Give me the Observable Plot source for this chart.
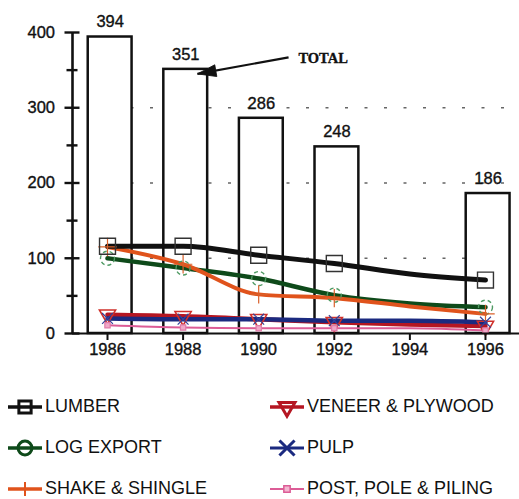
<!DOCTYPE html>
<html>
<head>
<meta charset="utf-8">
<script src="https://cdn.jsdelivr.net/npm/d3@7"></script>
<script src="https://cdn.jsdelivr.net/npm/@observablehq/plot@0.6"></script>
<style>
  html, body { margin: 0; padding: 0; background: #fff; }
  #chart { width: 519px; }
  #chart text { stroke: #111; stroke-width: 0.35px; }
  #legend {
    display: grid;
    grid-template-columns: 262px 257px;
    grid-auto-rows: 41px;
    padding-top: 21px;
    font-family: "Liberation Sans", Arial, Helvetica, sans-serif;
    font-size: 18px;
    color: #111;
  }
  .item { display: flex; align-items: center; }
  .item svg { flex: none; margin-right: 2px; }
  .left { padding-left: 7px; }
  .right { padding-left: 7px; }
</style>
</head>
<body>
<div id="chart"></div>
<div id="legend"></div>
<script>
// Harvest by product, million board feet equivalent, 1986–1996
const years = [1986, 1988, 1990, 1992, 1994, 1996];
const markerYears = [1986, 1988, 1990, 1992, 1996];

const totalYears = [1986, 1988, 1990, 1992, 1996];
const totals = [394, 351, 286, 248, 186];

const seriesNames = ["LUMBER", "LOG EXPORT", "SHAKE & SHINGLE", "VENEER & PLYWOOD", "PULP", "POST, POLE & PILING"];
const lumber = [116, 116, 104, 93, 79, 71];
const logExport = [100, 87, 73, 51, 40, 35];
const shakeShingle = [115, 92, 52, 47, 36, 26];
const veneerPlywood = [25, 23, 19, 15, 12, 10];
const pulp = [20, 19, 19, 17, 17, 15];
const postPolePiling = [11, 8, 7, 7, 7, 4];

const yTicks = [0, 100, 200, 300, 400];
const yMinorTicks = [50, 150, 250, 350];
const gridValues = [100, 200, 300];
const totalLabel = "TOTAL";

const seriesValues = [lumber, logExport, shakeShingle, veneerPlywood, pulp, postPolePiling];

// Drawing styles per series
const styles = {
  "LUMBER": {stroke: "#111", width: 5, marker: "square", mstroke: "#333", mr: 9, mwidth: 1.4},
  "LOG EXPORT": {stroke: "#0e4a1a", width: 4.5, marker: "circle", mstroke: "#4f9a63", mr: 7, mwidth: 1.4, dash: "4,3"},
  "SHAKE & SHINGLE": {stroke: "#e0531c", width: 4, marker: "plus", mstroke: "#d9602a", mr: 6, mwidth: 1.2},
  "VENEER & PLYWOOD": {stroke: "#b51622", width: 4.5, marker: "triangle", mstroke: "#d0302a", mr: 6, mwidth: 1.6},
  "PULP": {stroke: "#1b2a80", width: 4.5, marker: "times", mstroke: "#34429a", mr: 5, mwidth: 1.2},
  "POST, POLE & PILING": {stroke: "#dc5c96", width: 2, marker: "square", mstroke: "#e07aa8", mr: 3, mwidth: 1.2, mfill: "#f0a8c8"}
};

const totalData = totalYears.map((year, i) => ({year, total: totals[i]}));
const series = seriesNames.map((name, s) =>
  years.map((year, i) => ({series: name, year, value: seriesValues[s][i]}))
);

// Filled, elongated arrowhead with its tip at the origin, pointing up
const arrowHead = {
  draw(context, size) {
    const s = Math.sqrt(size);
    context.moveTo(0, 0);
    context.lineTo(-0.32 * s, s);
    context.lineTo(0.32 * s, s);
    context.closePath();
  }
};

// TOTAL call-out (data coordinates)
const callout = {tipX: 1988.38, tipY: 345, tailX: 1990.79, tailY: 367, textX: 1991.05, textY: 366};

const drawOrder = ["LOG EXPORT", "SHAKE & SHINGLE", "VENEER & PLYWOOD", "PULP", "POST, POLE & PILING", "LUMBER"];

const lineMarks = [];
for (const name of drawOrder) {
  const st = styles[name];
  const data = series[seriesNames.indexOf(name)];
  lineMarks.push(Plot.line(data, {
    x: "year", y: "value", stroke: st.stroke, strokeWidth: st.width,
    curve: "monotone-x", strokeLinecap: "round", strokeLinejoin: "round"
  }));
}
const markerMarks = [];
for (const name of drawOrder) {
  const st = styles[name];
  const data = series[seriesNames.indexOf(name)].filter(d => markerYears.includes(d.year));
  markerMarks.push(Plot.dot(data, {
    x: "year", y: "value", symbol: st.marker, r: st.mr,
    rotate: st.marker === "triangle" ? 180 : 0,
    fill: st.mfill || "none", stroke: st.mstroke, strokeWidth: st.mwidth,
    strokeDasharray: st.dash || null
  }));
}

const chart = Plot.plot({
  width: 519,
  height: 365,
  marginLeft: 72,
  marginRight: 0,
  marginTop: 32,
  marginBottom: 32,
  x: {domain: [1985.074, 1996.9], axis: null, label: null},
  y: {domain: [0, 400], axis: null, label: null},
  style: {fontFamily: "'Liberation Sans', Arial, Helvetica, sans-serif", background: "white", color: "#111"},
  marks: [
    Plot.ruleY(gridValues, {stroke: "#666", strokeWidth: 1.6, strokeDasharray: "3,16.5"}),
    Plot.rect(totalData, {
      x1: d => d.year - 0.51, x2: d => d.year + 0.65, y1: 0, y2: "total",
      fill: "white", stroke: "#111", strokeWidth: 2.5
    }),
    Plot.text(totalData, {
      x: d => d.year + 0.07, y: "total", text: d => String(d.total),
      dy: -15, fontSize: 16.5, fill: "#111"
    }),
    ...lineMarks,
    ...markerMarks,
    // x axis
    Plot.ruleY([0], {stroke: "#111", strokeWidth: 2.2}),
    Plot.axisX({ticks: years, tickFormat: d => String(d), tickSize: 7, tickPadding: 3,
      fontSize: 16.5, strokeWidth: 2, label: null}),
    // y axis
    Plot.ruleX([1985.074], {y1: 0, y2: 400, stroke: "#111", strokeWidth: 2.6}),
    Plot.axisY({ticks: yTicks, tickFormat: d => String(d), tickSize: 15, dx: 7.5, tickPadding: 10,
      fontSize: 16.5, strokeWidth: 2.4, label: null}),
    Plot.axisY({ticks: yMinorTicks, tickFormat: () => "", tickSize: 11, dx: 5.5, strokeWidth: 2.4, label: null}),
    // TOTAL call-out
    Plot.link([callout], {x1: "tailX", y1: "tailY", x2: "tipX", y2: "tipY", stroke: "#111", strokeWidth: 2.2}),
    Plot.dot([callout], {x: "tipX", y: "tipY", symbol: arrowHead, r: 10.5, rotate: -100, fill: "#111", stroke: "#111", strokeWidth: 0.8}),
    Plot.text([callout], {x: "textX", y: "textY", text: () => totalLabel, textAnchor: "start",
      fontFamily: "'Liberation Serif', 'Times New Roman', serif", fontWeight: "bold", fontSize: 14.5, fill: "#111"})
  ]
});
document.getElementById("chart").appendChild(chart);

// Legend: two columns, three rows
const legendOrder = ["LUMBER", "VENEER & PLYWOOD", "LOG EXPORT", "PULP", "SHAKE & SHINGLE", "POST, POLE & PILING"];
const symbolTypes = {square: d3.symbolSquare, circle: d3.symbolCircle, plus: d3.symbolCross, triangle: d3.symbolTriangle, times: d3.symbolX};
const legendSymbols = {
  "LUMBER": {type: "square", size: 150, sw: 3, lw: 3.5, fill: "none"},
  "LOG EXPORT": {type: "circle", size: 150, sw: 3, lw: 3.5, fill: "none"},
  "SHAKE & SHINGLE": {type: "plus", size: 0, sw: 2, lw: 3.5, fill: "none"},
  "VENEER & PLYWOOD": {type: "triangle", size: 110, sw: 3, lw: 3.5, fill: "none", rotate: 180},
  "PULP": {type: "times", size: 150, sw: 3, lw: 3, fill: "none"},
  "POST, POLE & PILING": {type: "square", size: 40, sw: 1.5, lw: 2, fill: "#f3b6d0"}
};
const legend = d3.select("#legend");
legendOrder.forEach((name, i) => {
  const st = styles[name];
  const ls = legendSymbols[name];
  const item = legend.append("div").attr("class", "item " + (i % 2 === 0 ? "left" : "right"));
  const svg = item.append("svg").attr("width", 36).attr("height", 24);
  svg.append("line").attr("x1", 1).attr("x2", 35).attr("y1", 12).attr("y2", 12)
    .attr("stroke", st.stroke).attr("stroke-width", ls.lw);
  if (ls.type === "plus") {
    svg.append("line").attr("x1", 18).attr("x2", 18).attr("y1", 5).attr("y2", 19)
      .attr("stroke", st.stroke).attr("stroke-width", ls.sw);
  } else {
    svg.append("path")
      .attr("d", d3.symbol(symbolTypes[ls.type], ls.size)())
      .attr("transform", `translate(18,12) rotate(${ls.rotate || 0})`)
      .attr("fill", ls.fill).attr("stroke", st.stroke).attr("stroke-width", ls.sw);
  }
  item.append("span").text(name);
});
</script>
</body>
</html>
